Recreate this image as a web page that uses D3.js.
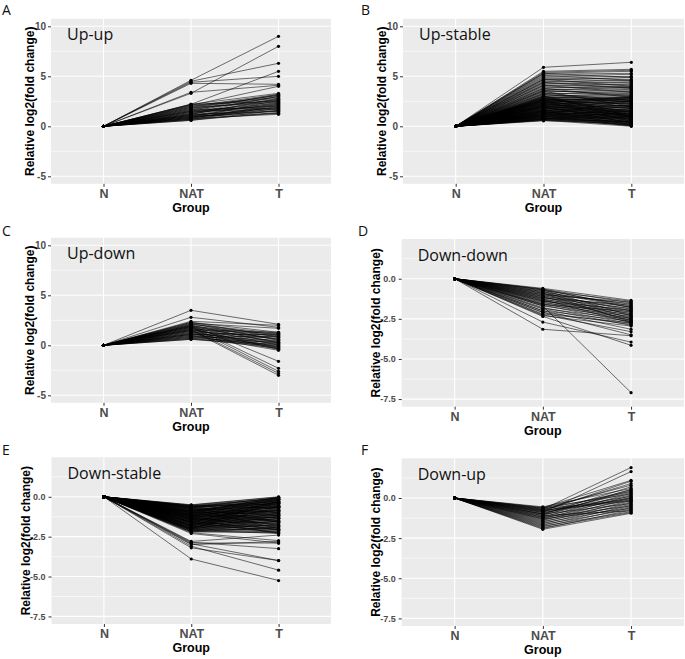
<!DOCTYPE html>
<html><head><meta charset="utf-8">
<script src="https://cdn.jsdelivr.net/npm/d3@7"></script>
<style>body{margin:0;background:#fff}svg{display:block}</style>
</head><body>
<svg id="chart" width="685" height="659"></svg>
<script>
// ---------- DATA ----------
const groups = ["N", "NAT", "T"];
const yTicksUp = [-5, 0, 5, 10];
const yTicksDown = [0, -2.5, -5, -7.5];
const yTickLabelsUp = ["-5", "0", "5", "10"];
const yTickLabelsDown = ["0.0", "-2.5", "-5.0", "-7.5"];
const panelLetters = ["A", "B", "C", "D", "E", "F"];
const panelTitles = ["Up-up", "Up-stable", "Up-down", "Down-down", "Down-stable", "Down-up"];

// each line: N = 0, then [NAT, T]
const upUp = [[4.6,9.0],[4.5,6.3],[4.4,5.0],[3.3,8.0],[3.4,4.1],[2.2,5.5],[2.1,4.0],[4.3,4.2],
[2.2,3.3],[2.0,3.2],[1.8,3.1],[1.5,3.0],[2.1,2.9],[1.2,2.8],[1.7,2.7],[0.9,2.6],[1.4,2.5],[1.9,2.4],[1.0,2.3],[1.3,2.2],
[0.8,2.1],[1.6,2.0],[1.1,1.9],[0.7,1.8],[1.5,1.7],[0.9,1.6],[1.2,1.5],[0.6,1.4],[1.0,1.3],[0.8,1.2],[2.0,2.8],[1.8,2.6],
[1.3,3.0],[1.1,2.4],[0.7,2.0],[1.6,3.2],[0.9,1.9],[1.4,2.1],[2.2,2.5],[1.7,1.8],[0.6,1.6],[1.2,2.7],[1.0,1.5],[0.8,2.2],
[1.9,3.1],[1.5,2.3],[1.1,1.7],[0.7,1.3]];
const upStable = [[5.9,6.4],[5.5,5.7],[5.4,5.6],[5.3,5.5],[5.2,5.3],[5.0,5.2],[4.9,5.0],[4.8,4.7],[4.7,4.5],[4.6,4.9],
[4.5,4.3],[4.4,4.6],[4.3,4.1],[4.2,4.4],[4.1,3.9],[4.0,4.2],[3.9,3.8],[3.8,4.0],[3.7,3.6],[3.6,3.9],[3.5,3.4],[3.4,3.7],
[3.3,3.2],[3.2,3.5],[3.1,3.0],[3.0,3.3],[2.9,2.8],[2.9,3.1],[2.8,2.6],[2.8,2.9],[2.7,2.5],[2.7,2.7],[2.6,2.3],[2.6,2.8],
[2.5,2.2],[2.5,2.6],[2.4,2.0],[2.4,2.5],[2.3,1.9],[2.3,2.4],[2.2,1.8],[2.2,2.3],[2.1,1.6],[2.1,2.1],[2.0,1.5],[2.0,2.0],
[1.9,1.4],[1.9,1.9],[1.8,1.2],[1.8,1.8],[1.7,1.1],[1.7,1.7],[1.6,1.0],[1.6,1.6],[1.5,0.9],[1.5,1.5],[1.4,0.8],[1.4,1.4],
[1.3,0.7],[1.3,1.3],[1.2,0.6],[1.2,1.2],[1.1,0.5],[1.1,1.1],[1.0,0.4],[1.0,1.0],[0.9,0.3],[0.9,0.9],[0.8,0.2],[0.8,0.8],
[0.7,0.1],[0.7,0.6],[0.6,0.0],[0.55,0.3],[2.5,0.5],[3.0,1.0],[2.0,0.3],[1.5,0.2],[3.5,2.0],[1.2,2.5],[2.8,1.4],[2.6,0.9],
[3.2,2.4],[1.9,0.7],[2.3,1.2],[1.0,1.8],[0.7,1.5],[2.7,2.0],[2.1,1.0],[1.6,0.4],
[0.6,0.5],[0.65,0.15],[0.75,0.4],[0.85,0.05],[0.95,0.7],[1.05,0.25],[1.15,0.85],[1.25,0.35],[1.35,1.05],[1.45,0.45],
[1.55,1.25],[1.65,0.55],[1.75,1.45],[1.85,0.65],[1.95,1.65],[2.05,0.75],[2.15,1.85],[2.25,0.85],[2.35,2.05],[2.45,0.95],
[2.55,2.25],[2.65,1.05],[2.75,2.45],[2.85,1.15],[2.95,2.65],[3.05,1.25],[0.7,1.0],[0.9,1.3],[1.1,1.6],[1.3,2.0],[1.5,2.2],
[1.7,2.6],[1.9,2.8],[2.1,2.9],[2.3,3.0],[2.5,2.9],[3.3,2.6],[3.6,3.1],[3.8,2.9],[4.1,3.4],[4.4,3.8],[4.7,4.0],[5.1,4.6],
[5.3,4.9],[0.8,0.45],[1.0,0.1],[1.2,0.05],[1.4,0.15]];
const upDown = [[3.5,2.1],[2.8,1.8],[2.4,2.0],[2.3,1.3],[2.2,1.7],[2.1,1.0],[2.0,-1.6],[1.9,-2.3],[1.8,-2.6],[1.6,-2.8],
[1.5,-3.0],[2.3,0.8],[2.2,0.5],[2.1,1.2],[2.0,0.2],[1.9,1.1],[1.8,0.9],[1.8,0.0],[1.7,0.6],[1.6,1.3],[1.6,-0.2],[1.5,0.4],
[1.4,0.8],[1.4,-0.3],[1.3,0.1],[1.3,1.0],[1.2,0.3],[1.2,-0.4],[1.1,0.7],[1.1,-0.1],[1.0,0.2],[1.0,-0.5],[0.9,0.5],[0.9,-0.2],
[0.8,0.0],[0.8,0.9],[0.7,-0.3],[0.7,0.3],[0.6,0.1],[0.6,-0.1],[1.5,1.2],[1.7,-0.4],[1.9,0.3],[2.0,0.6],[1.1,1.1]];
const downDown = [[-1.7,-7.1],[-3.15,-3.55],[-2.7,-3.95],[-2.35,-4.15],[-2.25,-3.3],[-2.0,-3.15],[-2.1,-3.5],
[-0.6,-1.35],[-0.65,-1.5],[-0.7,-1.7],[-0.75,-1.4],[-0.8,-1.8],[-0.85,-1.6],[-0.9,-2.0],[-0.95,-1.55],[-1.0,-1.9],
[-1.05,-2.1],[-1.1,-1.75],[-1.15,-2.2],[-1.2,-1.85],[-1.25,-2.3],[-1.3,-2.0],[-1.35,-2.4],[-1.4,-2.15],[-1.45,-2.5],
[-1.5,-2.25],[-1.55,-2.6],[-1.6,-2.35],[-1.65,-2.7],[-1.7,-2.45],[-1.8,-2.8],[-1.85,-2.55],[-1.9,-2.9],[-2.0,-2.65],
[-2.1,-2.85],[-2.2,-2.75],[-2.3,-2.95],[-0.7,-2.3],[-0.8,-2.5],[-0.9,-2.7],[-1.0,-1.45],[-1.2,-1.65],[-1.4,-1.95],
[-1.6,-2.05],[-0.65,-1.8],[-1.1,-2.6],[-1.3,-2.75]];
const downStable = [[-0.5,0.0],[-0.55,-0.1],[-0.6,-0.2],[-0.65,-0.05],[-0.7,-0.3],[-0.75,-0.15],[-0.8,-0.4],[-0.85,-0.25],
[-0.9,-0.5],[-0.95,-0.1],[-1.0,-0.6],[-1.0,-0.35],[-1.05,-0.7],[-1.1,-0.45],[-1.1,-0.8],[-1.15,-0.2],[-1.2,-0.9],[-1.2,-0.55],
[-1.25,-1.0],[-1.3,-0.65],[-1.3,-1.1],[-1.35,-0.3],[-1.4,-1.2],[-1.4,-0.75],[-1.45,-1.3],[-1.5,-0.85],[-1.5,-1.4],[-1.55,-0.5],
[-1.6,-1.5],[-1.6,-0.95],[-1.65,-1.6],[-1.7,-1.05],[-1.7,-1.7],[-1.75,-0.7],[-1.8,-1.8],[-1.8,-1.15],[-1.85,-1.9],[-1.9,-1.25],
[-1.9,-2.0],[-1.95,-1.0],[-2.0,-2.1],[-2.0,-1.35],[-2.05,-2.2],[-2.1,-1.5],[-2.1,-2.3],[-2.15,-1.7],[-2.2,-1.9],[-2.2,-2.2],
[-0.6,-0.7],[-0.7,-1.0],[-0.8,-1.2],[-0.9,-1.5],[-1.0,-1.8],[-1.2,-2.1],[-1.4,-2.3],[-0.65,-1.6],[-0.75,-2.0],[-1.6,-2.25],
[-1.8,-0.4],[-2.0,-0.6],[-1.3,-1.75],[-1.1,-1.35],[-0.9,-0.85],[-0.55,-0.5],[-0.6,-0.35],[-0.85,-0.6],[-1.05,-0.15],[-1.25,-0.4],
[-1.45,-0.6],[-1.65,-0.3],[-1.85,-0.8],[-2.05,-1.2],[-0.7,-0.05],[-0.95,-0.95],[-1.15,-1.55],[-1.35,-1.9],[-1.55,-2.05],
[-0.52,-0.02],[-0.58,-0.12],[-0.62,-0.45],[-0.68,-0.25],[-0.72,-0.55],[-0.78,-0.65],[-0.82,-0.75],[-0.88,-0.35],[-0.92,-0.05],
[-0.98,-1.1],[-1.02,-0.9],[-1.08,-1.0],[-1.12,-1.2],[-1.18,-0.65],[-1.22,-1.3],[-1.28,-0.85],[-1.32,-1.45],[-1.38,-1.05],
[-1.42,-1.55],[-1.48,-1.15],[-1.52,-1.65],[-1.58,-1.25],[-1.62,-1.85],[-1.68,-1.35],[-1.72,-1.95],[-1.78,-1.45],[-1.82,-2.05],
[-1.88,-1.55],[-1.92,-2.15],[-1.98,-1.65],[-2.02,-1.8],[-2.08,-1.95],[-2.12,-2.05],[-2.18,-2.25],[-1.0,-0.05],[-1.2,-0.1],
[-1.4,-0.15],[-1.6,-0.2],[-1.8,-0.25],[-2.0,-0.3],
[-3.9,-5.25],[-3.1,-4.6],[-3.2,-4.0],[-2.95,-4.0],[-2.85,-3.25],[-3.0,-2.8],[-2.8,-2.4],[-2.3,-2.9],[-2.25,-2.75],[-2.9,-2.9]];
const downUp = [[-0.7,1.9],[-0.9,1.65],[-0.6,1.1],[-0.8,1.05],[-0.65,0.8],[-0.75,0.9],[-1.0,0.7],[-0.55,0.6],[-0.85,0.5],
[-1.1,0.55],[-0.7,0.4],[-0.95,0.35],[-1.2,0.3],[-0.6,0.25],[-1.05,0.2],[-1.3,0.15],[-0.8,0.1],[-1.15,0.05],[-1.4,0.0],
[-0.9,-0.05],[-1.25,-0.1],[-1.5,-0.15],[-0.75,-0.2],[-1.35,-0.25],[-1.6,-0.3],[-1.0,-0.35],[-1.45,-0.4],[-1.7,-0.45],
[-1.2,-0.5],[-1.55,-0.55],[-1.8,-0.6],[-1.3,-0.65],[-1.65,-0.7],[-1.9,-0.75],[-1.75,-0.85],[-1.95,-0.95],[-1.85,-0.9],
[-1.1,-0.8],[-0.65,-0.15],[-0.85,0.0],[-1.0,0.45]];
const panelData = [upUp, upStable, upDown, downDown, downStable, downUp];

// ---------- LAYOUT ----------
const layout = [
  {left:51, right:331, top:18.8, bottom:183.8, letterX:2, letterY:15, up:true, titleX:29},
  {left:403, right:684, top:18.8, bottom:183.8, letterX:361, letterY:15, up:true, titleX:381},
  {left:51, right:331, top:237.8, bottom:402.8, letterX:2, letterY:236, up:true, titleX:29},
  {left:401.7, right:684, top:239, bottom:406.7, letterX:358, letterY:236, up:false, titleX:375},
  {left:51.5, right:331, top:457.3, bottom:624, letterX:2, letterY:455, up:false, titleX:25},
  {left:401.7, right:684, top:458.3, bottom:626, letterX:361, letterY:455, up:false, titleX:375}
];

const svg = d3.select("#chart");
const tickFont = "'Liberation Sans', Arial, sans-serif";

layout.forEach((L, i) => {
  const g = svg.append("g");
  const domainY = L.up ? [-5.75, 10.75] : [-7.975, 2.475];
  const y = d3.scaleLinear().domain(domainY).range([L.bottom, L.top]);
  const unit = (L.right - L.left) / 3.2;
  const x = d3.scalePoint().domain(groups).range([L.left + 0.6 * unit, L.right - 0.6 * unit]);
  const majors = L.up ? yTicksUp : yTicksDown;
  const majorLabels = L.up ? yTickLabelsUp : yTickLabelsDown;
  const minors = L.up ? [-2.5, 2.5, 7.5] : [1.25, -1.25, -3.75, -6.25];

  g.append("rect").attr("x", L.left).attr("y", L.top)
    .attr("width", L.right - L.left).attr("height", L.bottom - L.top).attr("fill", "#EBEBEB");
  g.selectAll(".minor").data(minors).join("line")
    .attr("x1", L.left).attr("x2", L.right).attr("y1", d => y(d)).attr("y2", d => y(d))
    .attr("stroke", "#fff").attr("stroke-width", 0.6);
  g.selectAll(".major").data(majors).join("line")
    .attr("x1", L.left).attr("x2", L.right).attr("y1", d => y(d)).attr("y2", d => y(d))
    .attr("stroke", "#fff").attr("stroke-width", 1.1);
  g.selectAll(".vmajor").data(groups).join("line")
    .attr("y1", L.top).attr("y2", L.bottom).attr("x1", d => x(d)).attr("x2", d => x(d))
    .attr("stroke", "#fff").attr("stroke-width", 1.1);

  // axes
  const yAxis = d3.axisLeft(y).tickValues(majors).tickSize(3).tickPadding(L.up ? 2 : 3)
    .tickFormat((d, k) => majorLabels[k]);
  const ya = g.append("g").attr("transform", `translate(${L.left},0)`).call(yAxis);
  ya.select(".domain").remove();
  ya.selectAll("line").attr("stroke", "#333");
  ya.selectAll("text").attr("fill", "#4D4D4D").style("font-family", tickFont)
    .style("font-weight", "bold").style("font-size", L.up ? "10px" : "9px");

  const xAxis = d3.axisBottom(x).tickSize(3).tickPadding(2);
  const xa = g.append("g").attr("transform", `translate(0,${L.bottom})`).call(xAxis);
  xa.select(".domain").remove();
  xa.selectAll("line").attr("stroke", "#333");
  xa.selectAll("text").attr("fill", "#4D4D4D").style("font-family", tickFont)
    .style("font-weight", "bold").style("font-size", "12.5px");

  g.append("text").attr("x", (L.left + L.right) / 2).attr("y", L.bottom + 28)
    .attr("text-anchor", "middle").style("font-family", tickFont).style("font-weight", "bold")
    .style("font-size", "12.5px").attr("fill", "#000").text("Group");
  g.append("text").attr("transform", `translate(${L.titleX + 4.5},${(L.top + L.bottom) / 2}) rotate(-90)`)
    .attr("text-anchor", "middle").style("font-family", tickFont).style("font-weight", "bold")
    .style("font-size", "12px").attr("fill", "#000").text("Relative log2(fold change)");

  // lines
  const lineGen = d3.line().x(d => x(d.g)).y(d => y(d.v));
  const series = panelData[i].map(p => [{g:"N", v:0}, {g:"NAT", v:p[0]}, {g:"T", v:p[1]}]);
  g.selectAll(".ln").data(series).join("path").attr("d", lineGen)
    .attr("fill", "none").attr("stroke", "#000").attr("stroke-width", 0.7).attr("stroke-opacity", 0.8);
  const pts = series.flat();
  g.selectAll(".pt").data(pts).join("circle")
    .attr("cx", d => x(d.g)).attr("cy", d => y(d.v)).attr("r", 1.6).attr("fill", "#000");

  // labels
  g.append("text").attr("x", L.left + 16).attr("y", L.up ? y(8.6) : y(1.1))
    .style("font-family", "'Open Sans', sans-serif").style("font-size", "16px").attr("fill", "#111")
    .text(panelTitles[i]);
  svg.append("text").attr("x", L.letterX).attr("y", L.letterY)
    .style("font-family", "'Open Sans', sans-serif").style("font-size", "14px").attr("fill", "#111")
    .text(panelLetters[i]);
});
</script>
</body></html>
